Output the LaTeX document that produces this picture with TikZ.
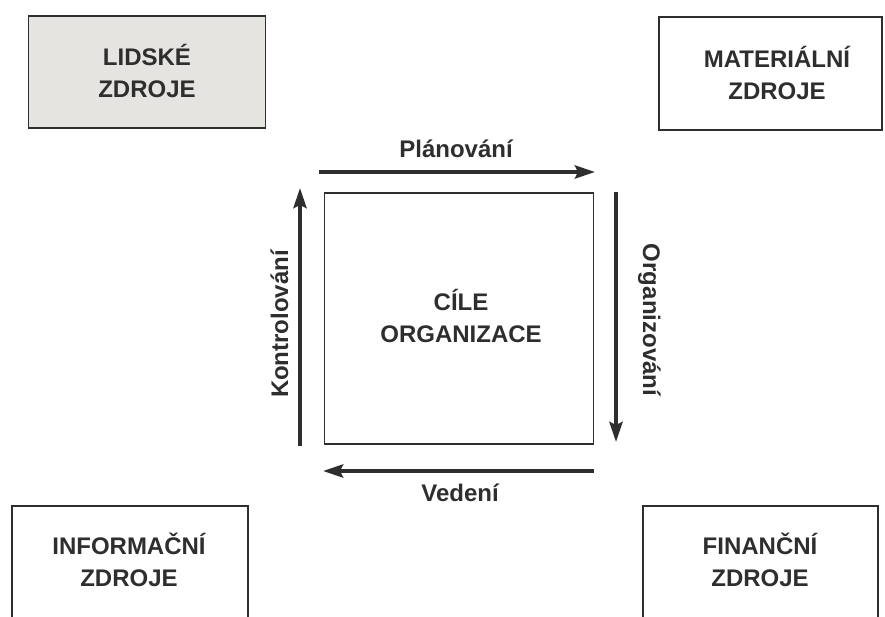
\documentclass[tikz,border=0pt]{standalone}
\usepackage{fontspec}
\setmainfont{Liberation Sans}
\usetikzlibrary{arrows.meta}
\definecolor{ink}{HTML}{2E2E2E}
\definecolor{shade}{HTML}{E6E4E1}
\tikzset{
  res/.style={draw=ink, line width=1.4pt, inner sep=0pt},
  txt/.style={text=ink, align=center, inner sep=0pt,
    font=\fontsize{24}{32}\selectfont\bfseries},
  flow/.style={draw=ink, line width=4pt, -{Stealth[length=20pt,width=13pt,inset=3pt]}},
  lab/.style={text=ink, font=\fontsize{24}{28}\selectfont\bfseries, inner sep=0pt, anchor=base}
}
\begin{document}
\begin{tikzpicture}[x=1pt,y=-1pt]
\clip (0,0) rectangle (885,617);
\fill[white] (0,0) rectangle (885,617);
% resource boxes
\node[res, fill=shade, minimum width=237, minimum height=112] (lid) at (147,72) {};
\node[res, minimum width=223, minimum height=113] (mat) at (770.5,73.5) {};
\node[res, minimum width=236, minimum height=130] (inf) at (130,571) {};
\node[res, minimum width=235, minimum height=130] (fin) at (760.5,571) {};
\node[txt] (lidt) at (147,71) {LIDSKÉ\\ZDROJE};
\node[txt] (matt) at (777,73) {MATERIÁLNÍ\\ZDROJE};
\node[txt] (inft) at (129,560) {INFORMAČNÍ\\ZDROJE};
\node[txt] (fint) at (760,560) {FINANČNÍ\\ZDROJE};
% goals box
\node[res, line width=1.2pt, minimum width=269, minimum height=251] (c) at (459,318.5) {};
\node[txt] (ct) at (461,316) {CÍLE\\ORGANIZACE};
% coordinates for the cycle
\coordinate (p1) at (319,172);
\coordinate (p2) at (595,172);
\coordinate (o1) at (616,192);
\coordinate (o2) at (616,442);
\coordinate (v1) at (594,471);
\coordinate (v2) at (323,471);
\coordinate (k1) at (300,446);
\coordinate (k2) at (300,188);
\draw[flow] (p1) -- (p2);
\draw[flow] (o1) -- (o2);
\draw[flow] (v1) -- (v2);
\draw[flow] (k1) -- (k2);
\node[lab] (pl) at (456,158) {Plánování};
\node[lab, rotate=-90] (or) at (643,320) {Organizování};
\node[lab] (ve) at (460,501) {Vedení};
\node[lab, rotate=90] (ko) at (288,324) {Kontrolování};
\end{tikzpicture}
\end{document}
